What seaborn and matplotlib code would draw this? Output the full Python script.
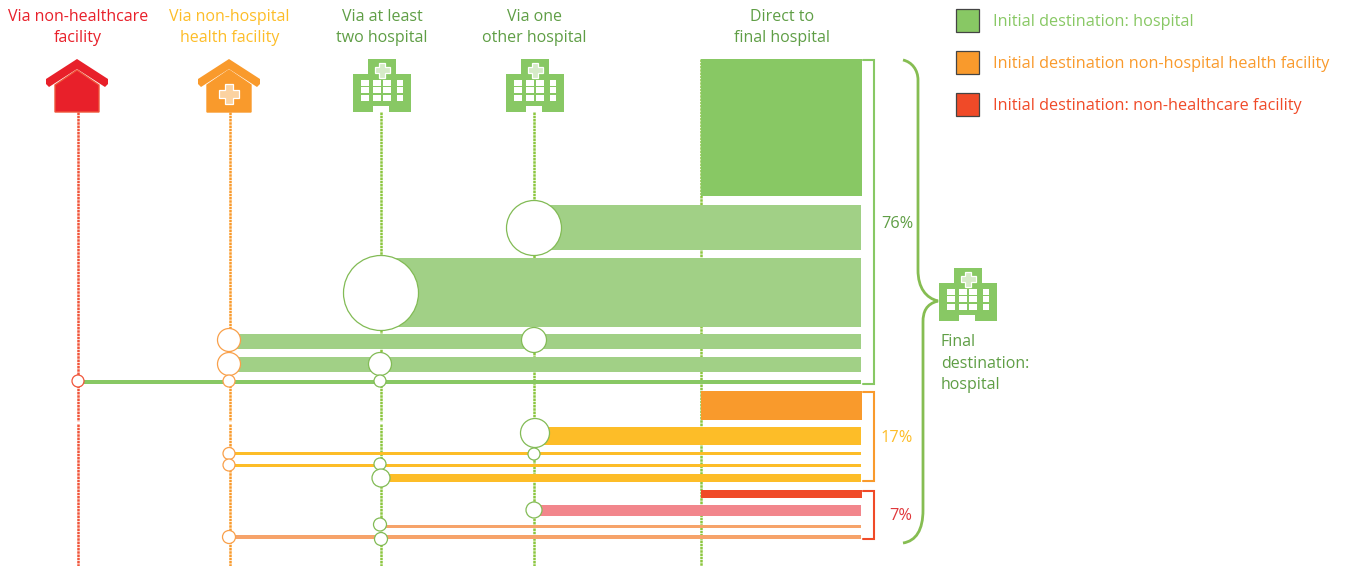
import matplotlib
matplotlib.use("Agg")
import matplotlib.pyplot as plt
from matplotlib.patches import Polygon, Rectangle, PathPatch
from matplotlib.path import Path
import seaborn as sns
import pandas as pd

# stage columns on the x axis (pixel scale of the picture)
stage_names = ['Via non-healthcare\nfacility', 'Via non-hospital\nhealth facility',
               'Via at least\ntwo hospital', 'Via one\nother hospital', 'Direct to\nfinal hospital']
stage_x = [78, 229.5, 381, 534, 701]
stage_colors = ['#e8202a', '#fdbd28', '#5f9e45', '#5f9e45', '#5f9e45']
stage_line_colors = ['#f0553a', '#f99a2c', '#8cc63f', '#8cc63f', '#8cc63f']

# flow bars
bar_left = [701, 534, 381, 229.5, 229.5, 78,
            701, 534, 229.5, 229.5, 381,
            701, 534, 381, 229.5]
bar_top = [59, 205, 258, 334, 357, 380,
           391, 427, 451.5, 463.5, 474,
           490, 505, 524.5, 535]
bar_bottom = [196, 250, 327, 349, 372, 384,
              420, 445, 455, 467, 482,
              498, 516, 528, 538.5]
bar_right = [862, 861, 861, 861, 861, 861,
             862, 861, 861, 861, 861,
             862, 861, 861, 861]
bar_colors = ['#88c864', '#a1d086', '#a1d086', '#a1d086', '#a1d086', '#88c864',
              '#f99a2c', '#fdbd28', '#fdbd28', '#fdbd28', '#fdbd28',
              '#f04a28', '#f2868c', '#f6a36a', '#f6a36a']

# stop circles on the stages
node_x = [534, 381, 229, 534, 229, 380, 78, 229, 380,
          535, 229, 534, 229, 380, 381, 534, 380, 229, 381]
node_y = [228, 293, 340, 340, 364, 364, 381, 381, 381,
          433, 453.5, 454, 465, 464, 478, 510, 524.5, 537, 539]
node_d = [55, 75, 23, 25, 23, 23, 12, 12, 12,
          29, 12, 12, 12, 12, 18, 16, 13, 13, 13]
node_edge = ['#82bb55', '#82bb55', '#f9a04a', '#82bb55', '#f9a04a', '#82bb55', '#f0553a', '#f9a04a', '#82bb55',
             '#82bb55', '#f9a04a', '#82bb55', '#f9a04a', '#82bb55', '#82bb55', '#82bb55', '#82bb55', '#f9a04a', '#82bb55']

legend_labels = ['Initial destination: hospital', 'Initial destination non-hospital health facility',
                 'Initial destination: non-healthcare facility']
legend_colors = ['#88c864', '#f99a2c', '#f04a28']

share_labels = ['76%', '17%', '7%']
share_colors = ['#5f9e45', '#fdbd28', '#e0383c']
bracket_colors = ['#88c864', '#f99a2c', '#f04a28']
bracket_top = [60, 391.5, 490.5]
bracket_bottom = [384, 481, 539]


def cross(ax, cx, cy, size, color):
    a = size / 2
    b = size / 5
    pts = [(cx-b, cy-a), (cx+b, cy-a), (cx+b, cy-b), (cx+a, cy-b), (cx+a, cy+b), (cx+b, cy+b),
           (cx+b, cy+a), (cx-b, cy+a), (cx-b, cy+b), (cx-a, cy+b), (cx-a, cy-b), (cx-b, cy-b)]
    ax.add_patch(Polygon(pts, closed=True, fc=color, ec='white', lw=0.9, zorder=6))


def hospital(ax, x0, y0):
    # x0, y0 is the top left corner of the icon, 58 x 53 px
    green = '#88c864'
    shape = [(15, 0), (43, 0), (43, 15), (58, 15), (58, 53), (0, 53), (0, 15), (15, 15)]
    ax.add_patch(Polygon([(x0+a, y0+b) for a, b in shape], closed=True, fc=green, ec='none', zorder=5))
    for wx, ww in zip([8, 20, 30, 44], [8, 8, 8, 6]):
        for wy, wh in zip([21, 28, 36], [5.5, 6, 6]):
            ax.add_patch(Rectangle((x0+wx, y0+wy), ww, wh, fc='white', ec='none', zorder=6))
    ax.add_patch(Rectangle((x0+20, y0+47), 16, 6, fc='white', ec='none', zorder=6))
    cross(ax, x0+29, y0+11, 15, '#d6ebc8')


def house(ax, cx, roof_color, body_color, edge_color):
    roof = [(0, 59), (31, 79), (31, 84), (28, 87), (0, 69), (-28, 87), (-31, 84), (-31, 79)]
    body = [(0, 70), (22, 85), (22, 112), (-22, 112), (-22, 85)]
    ax.add_patch(Polygon([(cx+a, b) for a, b in body], closed=True, fc=body_color, ec=edge_color, lw=1, zorder=5))
    ax.add_patch(Polygon([(cx+a, b) for a, b in roof], closed=True, fc=roof_color, ec='none', zorder=5))


def stage_line(ax, x, y0, y1, color):
    sns.lineplot(x=[x, x], y=[y0, y1], estimator=None, sort=False, color=color, lw=1.8,
                 ls=(0, (1, 0.3)), ax=ax, zorder=2)


def main():
    sns.set_style('white')
    plt.rcParams['font.family'] = ['Open Sans', 'DejaVu Sans']

    fig = plt.figure(figsize=(13.46, 5.66), dpi=100)
    ax = fig.add_axes([0, 0, 1, 1])

    bars = pd.DataFrame({'left': bar_left, 'top': bar_top, 'bottom': bar_bottom,
                         'right': bar_right, 'color': bar_colors})
    ax.barh(y=(bars['top'] + bars['bottom']) / 2, width=bars['right'] - bars['left'],
            height=bars['bottom'] - bars['top'], left=bars['left'], color=bars['color'],
            linewidth=0, zorder=3)

    # dotted stage lines, small white break below the orange row
    for x, c in zip(stage_x, stage_line_colors):
        top = 59 if x == 701 else 112
        if x >= 534:
            stage_line(ax, x, top, 566, c)
        else:
            stage_line(ax, x, top, 421, c)
            stage_line(ax, x, 424, 566, c)

    nodes = pd.DataFrame({'x': node_x, 'y': node_y, 'd': node_d, 'edge': node_edge})
    sns.scatterplot(data=nodes, x='x', y='y', size='d',
                    sizes={d: (d * 0.72) ** 2 for d in set(node_d)},
                    facecolor='white', edgecolor=nodes['edge'], linewidth=0.9,
                    legend=False, ax=ax, zorder=4)

    ax.set_xlim(0, 1346)
    ax.set_ylim(566, 0)
    ax.axis('off')

    for name, x, c in zip(stage_names, [78, 229.5, 382, 534.5, 782], stage_colors):
        ax.text(x, 27.5, name, color=c, fontsize=11.5, ha='center', va='center', linespacing=1.45)

    house(ax, 77, '#e8202a', '#e8202a', '#f0553a')
    house(ax, 229, '#f99a2c', '#f99a2c', '#f99a2c')
    cross(ax, 229, 94, 20, '#fbd2a0')
    hospital(ax, 353, 59)
    hospital(ax, 506, 59)
    hospital(ax, 939, 268)

    for top, bottom, c in zip(bracket_top, bracket_bottom, bracket_colors):
        ax.plot([863, 874, 874, 863], [top, top, bottom, bottom], color=c, lw=1.5,
                solid_joinstyle='miter', zorder=3)

    for label, x, y, c in zip(share_labels, [897, 897, 901], [224, 438, 516], share_colors):
        ax.text(x, y, label, color=c, fontsize=11.8, ha='center', va='center')

    # big curly brace towards the final destination
    verts = [(903, 60), (912, 62), (918, 70), (918, 80), (918, 270), (918, 288), (926, 298), (938, 301),
             (926, 304), (923, 312), (923, 322), (923, 510), (923, 530), (916, 541), (903, 543)]
    codes = [Path.MOVETO, Path.CURVE4, Path.CURVE4, Path.CURVE4, Path.LINETO, Path.CURVE4, Path.CURVE4, Path.CURVE4,
             Path.CURVE4, Path.CURVE4, Path.CURVE4, Path.LINETO, Path.CURVE4, Path.CURVE4, Path.CURVE4]
    ax.add_patch(PathPatch(Path(verts, codes), fc='none', ec='#86bd52', lw=2.0, zorder=3))

    ax.text(941, 363.5, 'Final\ndestination:\nhospital', color='#5f9e45', fontsize=11.5,
            ha='left', va='center', linespacing=1.45)

    for label, y, c in zip(legend_labels, [20.5, 62, 104], legend_colors):
        ax.add_patch(Rectangle((955.5, y - 11.5), 23, 23, fc=c, ec='#444444', lw=0.9, zorder=3))
        ax.text(993, y + 2, label, color=c, fontsize=11.7, ha='left', va='center')

    fig.savefig('out.png', dpi=100)


if __name__ == "__main__":
    main()
